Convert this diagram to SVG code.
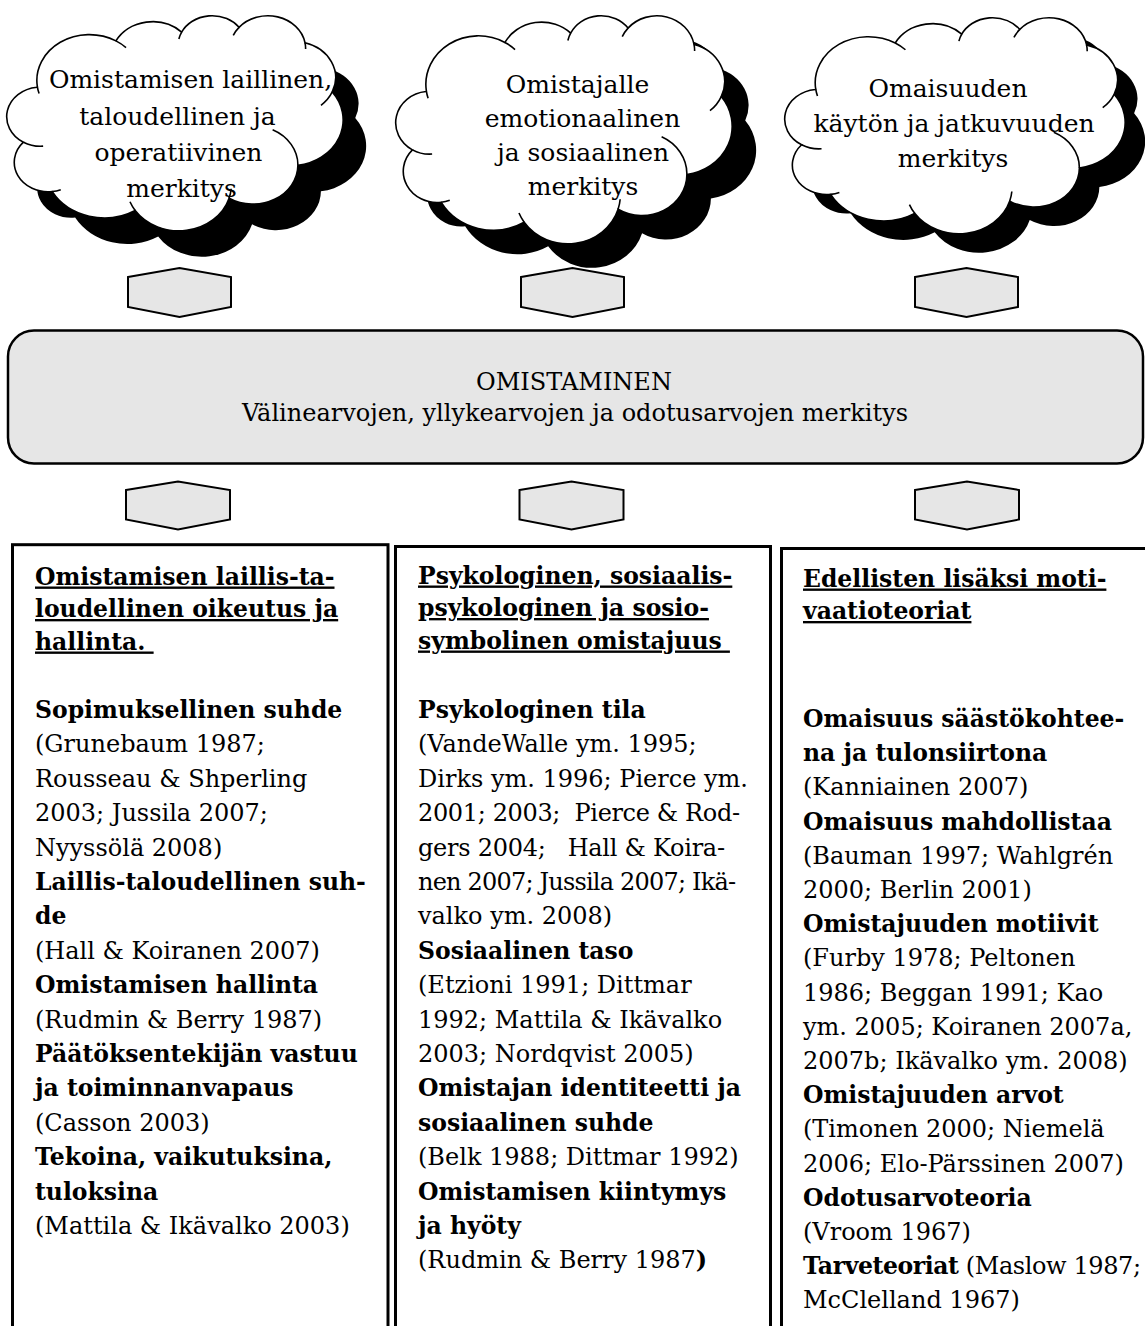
<svg xmlns="http://www.w3.org/2000/svg" xmlns:xlink="http://www.w3.org/1999/xlink" width="1145" height="1326" viewBox="0 0 1145 1326">
<style>
.shadow{fill:#000;stroke:none}
.cbody{fill:#fff;stroke:#000;stroke-width:1.6}
.crease{fill:none;stroke:#000;stroke-width:1.6}
.hex{fill:#e6e6e6;stroke:#000;stroke-width:2}
.main{fill:#e6e6e6;stroke:#000;stroke-width:2.5}
.col{fill:#fff;stroke:#000;stroke-width:3}
text{font-family:"DejaVu Serif","Liberation Serif",serif;fill:#000}
.cl{font-size:25px;text-anchor:middle}
.mid{font-size:24px;text-anchor:middle}
.r{font-size:24px}
.b{font-size:23.5px;font-weight:bold}
.u{text-decoration:underline}
</style>
<defs>
<path id="cloudShape" vector-effect="non-scaling-stroke" d="M3900 14370 A6753 9190 0 0 1 14005 5203 A5333 7267 0 0 1 22456 3433 A4365 5945 0 0 1 29833 2481 A4857 6595 0 0 1 38317 5577 A5333 7273 0 0 1 41817 15462 A6775 9220 0 0 1 37403 30206 A5785 7867 0 0 1 28554 36816 A6752 9215 0 0 1 16479 39268 A7720 10543 0 0 1 5802 35474 A4360 5918 0 0 1 2111 25551 A4345 5945 0 0 1 3861 14507 Z"/>
<path id="cloudCreases" vector-effect="non-scaling-stroke" d="M4644 26348 A4345 5945 0 0 1 2111 25551 M6911 35092 A4360 5918 0 0 1 5802 35474 M16479 39268 A6752 9215 0 0 1 15811 37527 M28821 34906 A6752 9215 0 0 1 28554 36816 M34152 23071 A5785 7867 0 0 1 37403 30206 M41817 15462 A5333 7273 0 0 1 40369 18138 M38317 5577 A4857 6595 0 0 1 38394 6840 M29089 4095 A4857 6595 0 0 1 29833 2481 M22097 4821 A4365 5945 0 0 1 22456 3433 M14005 5203 A6753 9190 0 0 1 15304 6550 M4126 15790 A6753 9190 0 0 1 3900 14370"/>
</defs>

<g id="cloud-1">
<use xlink:href="#cloudShape" class="shadow" transform="translate(30,41) scale(0.0077778,0.0049769)"/>
<use xlink:href="#cloudShape" class="cbody" transform="translate(7,15) scale(0.0077778,0.0049769)"/>
<use xlink:href="#cloudCreases" class="crease" transform="translate(7,15) scale(0.0077778,0.0049769)"/>
<text class="cl" x="190.5" y="88">Omistamisen laillinen,</text>
<text class="cl" x="177.5" y="125">taloudellinen ja</text>
<text class="cl" x="178.5" y="161">operatiivinen</text>
<text class="cl" x="181.5" y="197">merkitys</text>
</g>

<g id="cloud-2">
<use xlink:href="#cloudShape" class="shadow" transform="translate(420,39) scale(0.0077778,0.0052778)"/>
<use xlink:href="#cloudShape" class="cbody" transform="translate(396,15) scale(0.0077778,0.0052778)"/>
<use xlink:href="#cloudCreases" class="crease" transform="translate(396,15) scale(0.0077778,0.0052778)"/>
<text class="cl" x="577.5" y="93">Omistajalle</text>
<text class="cl" x="582.5" y="127">emotionaalinen</text>
<text class="cl" x="583" y="161">ja sosiaalinen</text>
<text class="cl" x="583" y="195">merkitys</text>
</g>

<g id="cloud-3">
<use xlink:href="#cloudShape" class="shadow" transform="translate(805,36) scale(0.0078704,0.005)"/>
<use xlink:href="#cloudShape" class="cbody" transform="translate(785,17) scale(0.0078704,0.005)"/>
<use xlink:href="#cloudCreases" class="crease" transform="translate(785,17) scale(0.0078704,0.005)"/>
<text class="cl" x="948" y="97">Omaisuuden</text>
<text class="cl" x="954" y="132">käytön ja jatkuvuuden</text>
<text class="cl" x="953" y="167">merkitys</text>
</g>

<g id="connectors">
<polygon class="hex" points="128,277 179.5,268 231,277 231,307 179.5,317 128,307"/>
<polygon class="hex" points="521,277 572.5,268 624,277 624,307 572.5,317 521,307"/>
<polygon class="hex" points="915,277 966.5,268 1018,277 1018,307 966.5,317 915,307"/>
<polygon class="hex" points="126,490 178,481.5 230,490 230,519.5 178,529.5 126,519.5"/>
<polygon class="hex" points="519.5,490 571.5,481.5 623.5,490 623.5,519.5 571.5,529.5 519.5,519.5"/>
<polygon class="hex" points="915,490 967,481.5 1019,490 1019,519.5 967,529.5 915,519.5"/>
</g>

<g id="omistaminen">
<rect class="main" x="8" y="330.5" width="1135" height="133" rx="26" ry="26"/>
<text class="mid" x="574" y="390">OMISTAMINEN</text>
<text class="mid" x="575" y="421">Välinearvojen, yllykearvojen ja odotusarvojen merkitys</text>
</g>

<g id="column-1">
<rect class="col" x="12.5" y="544.7" width="375.5" height="800"/>
<text class="b u" x="35" y="584.5">Omistamisen laillis-ta-</text>
<text class="b u" x="35" y="617">loudellinen oikeutus ja</text>
<text class="b u" x="35" y="649.5">hallinta.&#160;</text>
<text class="b" x="35" y="718">Sopimuksellinen suhde</text>
<text class="r" x="35" y="752.4">(Grunebaum 1987;</text>
<text class="r" x="35" y="786.8">Rousseau &amp; Shperling</text>
<text class="r" x="35" y="821.2">2003; Jussila 2007;</text>
<text class="r" x="35" y="855.6">Nyyssölä 2008)</text>
<text class="b" x="35" y="890">Laillis-taloudellinen suh-</text>
<text class="b" x="35" y="924.4">de</text>
<text class="r" x="35" y="958.8">(Hall &amp; Koiranen 2007)</text>
<text class="b" x="35" y="993.2">Omistamisen hallinta</text>
<text class="r" x="35" y="1027.6">(Rudmin &amp; Berry 1987)</text>
<text class="b" x="35" y="1062">Päätöksentekijän vastuu</text>
<text class="b" x="35" y="1096.4">ja toiminnanvapaus</text>
<text class="r" x="35" y="1130.8">(Casson 2003)</text>
<text class="b" x="35" y="1165.2">Tekoina, vaikutuksina,</text>
<text class="b" x="35" y="1199.6">tuloksina</text>
<text class="r" x="35" y="1234">(Mattila &amp; Ikävalko 2003)</text>
</g>

<g id="column-2">
<rect class="col" x="395.5" y="546.5" width="375" height="800"/>
<text class="b u" x="418" y="583.5">Psykologinen, sosiaalis-</text>
<text class="b u" x="418" y="616">psykologinen ja sosio-</text>
<text class="b u" x="418" y="648.5">symbolinen omistajuus&#160;</text>
<text class="b" x="418" y="718">Psykologinen tila</text>
<text class="r" x="418" y="752.4">(VandeWalle ym. 1995;</text>
<text class="r" x="418" y="786.8">Dirks ym. 1996; Pierce ym.</text>
<text class="r" x="418" y="821.2" textLength="322" lengthAdjust="spacing">2001; 2003;&#160; Pierce &amp; Rod-</text>
<text class="r" x="418" y="855.6" textLength="307" lengthAdjust="spacing">gers 2004;&#160;&#160; Hall &amp; Koira-</text>
<text class="r" x="418" y="890" textLength="318" lengthAdjust="spacing">nen 2007; Jussila 2007; Ikä-</text>
<text class="r" x="418" y="924.4">valko ym. 2008)</text>
<text class="b" x="418" y="958.8">Sosiaalinen taso</text>
<text class="r" x="418" y="993.2">(Etzioni 1991; Dittmar</text>
<text class="r" x="418" y="1027.6">1992; Mattila &amp; Ikävalko</text>
<text class="r" x="418" y="1062">2003; Nordqvist 2005)</text>
<text class="b" x="418" y="1096.4">Omistajan identiteetti ja</text>
<text class="b" x="418" y="1130.8">sosiaalinen suhde</text>
<text class="r" x="418" y="1165.2">(Belk 1988; Dittmar 1992)</text>
<text class="b" x="418" y="1199.6">Omistamisen kiintymys</text>
<text class="b" x="418" y="1234">ja hyöty</text>
<text class="r" x="418" y="1268.4">(Rudmin &amp; Berry 1987<tspan font-weight="bold">)</tspan></text>
</g>

<g id="column-3">
<rect class="col" x="781.5" y="548.5" width="400" height="800"/>
<text class="b u" x="803" y="586.5">Edellisten lisäksi moti-</text>
<text class="b u" x="803" y="619">vaatioteoriat</text>
<text class="b" x="803" y="727">Omaisuus säästökohtee-</text>
<text class="b" x="803" y="761.2">na ja tulonsiirtona</text>
<text class="r" x="803" y="795.4">(Kanniainen 2007)</text>
<text class="b" x="803" y="829.6">Omaisuus mahdollistaa</text>
<text class="r" x="803" y="863.8">(Bauman 1997; Wahlgrén</text>
<text class="r" x="803" y="898">2000; Berlin 2001)</text>
<text class="b" x="803" y="932.2">Omistajuuden motiivit</text>
<text class="r" x="803" y="966.4">(Furby 1978; Peltonen</text>
<text class="r" x="803" y="1000.6">1986; Beggan 1991; Kao</text>
<text class="r" x="803" y="1034.8">ym. 2005; Koiranen 2007a,</text>
<text class="r" x="803" y="1069">2007b; Ikävalko ym. 2008)</text>
<text class="b" x="803" y="1103.2">Omistajuuden arvot</text>
<text class="r" x="803" y="1137.4">(Timonen 2000; Niemelä</text>
<text class="r" x="803" y="1171.6">2006; Elo-Pärssinen 2007)</text>
<text class="b" x="803" y="1205.8">Odotusarvoteoria</text>
<text class="r" x="803" y="1240">(Vroom 1967)</text>
<text class="r" x="803" y="1274.2" textLength="338" lengthAdjust="spacing"><tspan class="b">Tarveteoriat</tspan> (Maslow 1987;</text>
<text class="r" x="803" y="1308.4">McClelland 1967)</text>
</g>
</svg>
